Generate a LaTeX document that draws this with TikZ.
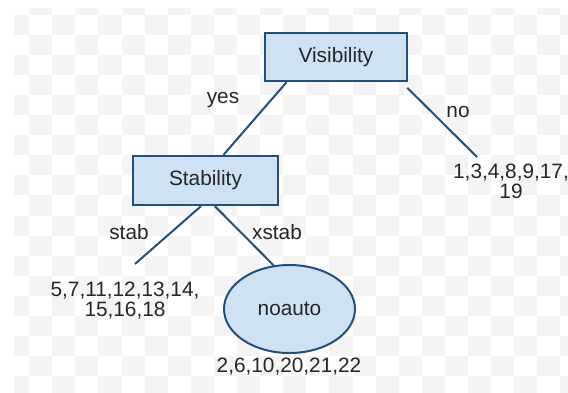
\documentclass[tikz,border=0pt]{standalone}
\usepackage{fontspec}
\setmainfont{Liberation Sans}
\usetikzlibrary{shapes.geometric}
\definecolor{boxblue}{RGB}{207,226,243}
\definecolor{edgeblue}{RGB}{33,80,124}
\definecolor{checkgray}{RGB}{244,244,244}
\tikzset{
  split/.style={draw=edgeblue, line width=2.4pt, fill=boxblue, text=black!85,
    minimum width=142pt, minimum height=48pt, inner sep=0pt},
  leafnode/.style={draw=edgeblue, line width=2pt, fill=boxblue, ellipse, text=black!85,
    minimum width=131pt, minimum height=88pt, inner sep=0pt},
  branch/.style={draw=edgeblue, line width=2pt},
  lbl/.style={text=black!85, inner sep=0pt, align=center}
}
\begin{document}
\begin{tikzpicture}[x=1pt, y=-1pt, font=\fontsize{20.8}{20}\selectfont]
  \useasboundingbox (0,0) rectangle (568,392);
  % faint checkered backdrop
  \begin{scope}
    \clip (14,8) rectangle (568,392);
    \foreach \j in {-1,...,18}
      \foreach \i in {0,...,24} {
        \pgfmathtruncatemacro\cellodd{mod(\i+\j+100,2)}
        \ifnum\cellodd=0
          \fill[checkgray] (6+23.1*\i,15+20.05*\j) rectangle ++(23.1,20.05);
        \fi
      }
  \end{scope}

  % tree nodes
  \node[split] (vis) at (336,57) {Visibility};
  \node[split, minimum width=145pt, minimum height=49pt] (stb) at (205.5,180.5) {Stability};
  \node[leafnode] (noa) at (289.5,309) {noauto};
  \coordinate (noend) at (477,157);
  \coordinate (stabend) at (135,264);

  % branches
  \draw[branch] (vis.207.5) -- (stb.55);
  \draw[branch, shorten <=8pt] (vis.-21) -- (noend);
  \draw[branch] (stb.260) -- (stabend);
  \draw[branch] (stb.290) -- (noa.110);

  % branch labels
  \node[lbl] (yes) at (223,100) {yes};
  \node[lbl] (no) at (458,112) {no};
  \node[lbl] (stab) at (129,232) {stab};
  \node[lbl] (xstab) at (277,232) {xstab};

  % leaf cases
  \node[lbl] (noset) at (511,181) {1,3,4,8,9,17,\\19};
  \node[lbl] (stabset) at (125,300.5) {5,7,11,12,13,14,\\15,16,18};
  \node[lbl] (noaset) at (289,367) {2,6,10,20,21,22};
\end{tikzpicture}
\end{document}
